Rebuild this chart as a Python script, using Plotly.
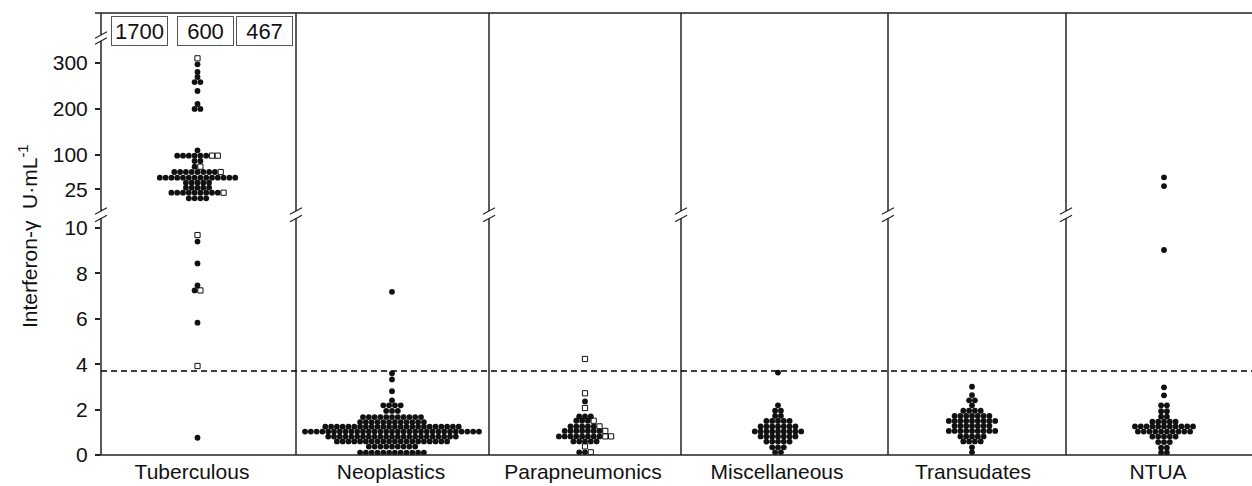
import plotly.graph_objects as go

# ---------------- data ----------------
categories = ["Tuberculous", "Neoplastics", "Parapneumonics",
              "Miscellaneous", "Transudates", "NTUA"]

# Dot-plot rows: value (U/mL), number of filled circles, number of open squares
# Tuberculous - lower panel (0-10)
tb_low_y = [9.69, 9.40, 8.44, 7.47, 7.25, 5.83, 3.92, 0.76]
tb_low_n = [0, 1, 1, 1, 1, 1, 0, 1]
tb_low_o = [1, 0, 0, 0, 1, 0, 1, 0]
# Tuberculous - upper panel
tb_up_y = [310.4, 297.3, 280.6, 269.7, 258.8, 239.3, 211.0, 200.2, 110.2,
           98.6, 87.0, 74.6, 63.0, 50.6, 39.8, 28.9, 18.0, 5.8]
tb_up_n = [0, 1, 1, 1, 2, 1, 1, 2, 1, 6, 2, 1, 8, 14, 5, 5, 9, 4]
tb_up_o = [1, 0, 0, 0, 0, 0, 0, 0, 0, 2, 0, 1, 1, 0, 0, 0, 1, 0]
# Tuberculous - off-scale values shown in boxes
tb_off_scale = [1700, 600, 467]

neo_y = [0.10, 0.37, 0.60, 0.81, 1.03, 1.25, 1.45, 1.67, 1.94, 2.19, 2.41,
         2.81, 3.33, 3.60, 7.19]
neo_n = [12, 9, 20, 23, 31, 24, 12, 11, 3, 4, 1, 1, 1, 1, 1]

para_y = [4.23, 2.72, 2.36, 2.07, 1.70, 1.51, 1.26, 1.06, 0.82, 0.60, 0.38, 0.12]
para_n = [0, 0, 1, 0, 3, 3, 5, 7, 8, 5, 0, 2]
para_o = [1, 1, 0, 1, 0, 1, 1, 1, 2, 0, 1, 1]

misc_y = [3.63, 2.19, 1.95, 1.72, 1.50, 1.26, 1.04, 0.82, 0.59, 0.34, 0.12]
misc_n = [1, 1, 2, 2, 5, 7, 9, 7, 5, 3, 2]

tran_y = [3.01, 2.64, 2.41, 2.19, 1.95, 1.72, 1.50, 1.28, 1.06, 0.82, 0.60,
          0.34, 0.12]
tran_n = [1, 1, 2, 1, 4, 7, 9, 7, 9, 5, 4, 1, 1]

ntua_up_y = [51.5, 32.5]
ntua_up_n = [1, 1]
ntua_y = [9.03, 2.98, 2.63, 2.19, 1.93, 1.69, 1.47, 1.26, 1.03, 0.81, 0.57,
          0.32, 0.10]
ntua_n = [1, 1, 1, 2, 2, 2, 5, 11, 10, 5, 3, 2, 2]

cutoff = 3.7
low_ticks = [0, 2, 4, 6, 8, 10]
up_ticks = [25, 100, 200, 300]

# ---------------- layout constants (pixels) ----------------
W, H = 1252, 486
L, R, T, B = 101, 0, 13, 31
PW, PH = W - L - R, H - T - B

def pxx(p):
    return (p - L) / PW

def pxy(p):
    return (H - B - p) / PH

# x axis runs in plot pixels
centers = [96.5, 291, 484, 677, 871, 1063]
label_pos = [91, 290, 482, 676, 872, 1057]
separators = [296, 489, 681, 888, 1066]
SPACING = 5.8

LOW_TOP, UP_BOT, UP_TOP = 218.5, 211, 38


def swarm(center, ys, ns, os_=None):
    if os_ is None:
        os_ = [0] * len(ys)
    fx, fy, ox, oy = [], [], [], []
    for y, n, o in zip(ys, ns, os_):
        tot = n + o
        for i in range(tot):
            x = center + (i - (tot - 1) / 2) * SPACING
            if i < n:
                fx.append(x); fy.append(y)
            else:
                ox.append(x); oy.append(y)
    return fx, fy, ox, oy


lower_sets = [
    (centers[0], tb_low_y, tb_low_n, tb_low_o),
    (centers[1], neo_y, neo_n, None),
    (centers[2], para_y, para_n, para_o),
    (centers[3], misc_y, misc_n, None),
    (centers[4], tran_y, tran_n, None),
    (centers[5], ntua_y, ntua_n, None),
]
upper_sets = [
    (centers[0], tb_up_y, tb_up_n, tb_up_o),
    (centers[5], ntua_up_y, ntua_up_n, None),
]

fig = go.Figure()
DOT = dict(symbol="circle", size=5.8, color="#111111", line=dict(width=0))
SQ = dict(symbol="square-open", size=5.2, color="#111111", line=dict(width=1, color="#111111"))

for yaxis, sets in (("y", lower_sets), ("y2", upper_sets)):
    for c, ys, ns, os_ in sets:
        fx, fy, ox, oy = swarm(c, ys, ns, os_)
        if fx:
            fig.add_trace(go.Scatter(x=fx, y=fy, mode="markers", marker=DOT,
                                     yaxis=yaxis, xaxis="x", showlegend=False,
                                     hoverinfo="y"))
        if ox:
            fig.add_trace(go.Scatter(x=ox, y=oy, mode="markers", marker=SQ,
                                     yaxis=yaxis, xaxis="x", showlegend=False,
                                     hoverinfo="y"))

FONT = "Liberation Sans, Arial, Helvetica, sans-serif"
LINE = "#222222"

shapes = []

def seg(x0, y0, x1, y1, color=LINE, width=1.5):
    shapes.append(dict(type="line", xref="paper", yref="paper",
                       x0=pxx(x0), y0=pxy(y0), x1=pxx(x1), y1=pxy(y1),
                       line=dict(color=color, width=width)))

def slash(x, y):
    seg(x - 6, y + 3.2, x + 6, y - 3.2, width=1.2)

# left axis with two breaks
seg(L, H - B, L, LOW_TOP)
seg(L, UP_BOT, L, 41)
seg(L, 35, L, T)
for yb in (LOW_TOP, UP_BOT, 41, 35):
    slash(L, yb)
# separators with break
for sx in separators:
    seg(sx, H - B, sx, LOW_TOP, color="#333333", width=1.6)
    seg(sx, UP_BOT, sx, T, color="#333333", width=1.6)
    slash(sx, LOW_TOP)
    slash(sx, UP_BOT)
# top and bottom lines
seg(95, T, W, T)
seg(95, H - B, W, H - B)
# cut-off line
shapes.append(dict(type="line", xref="paper", yref="y", x0=0, x1=1,
                   y0=cutoff, y1=cutoff,
                   line=dict(color="#000000", width=1.3, dash="6px,4px")))

annotations = []
box_x = [139.5, 205.5, 264]
for v, bx in zip(tb_off_scale, box_x):
    annotations.append(dict(text=str(v), xref="paper", yref="paper",
                            x=pxx(bx), y=pxy(31), xanchor="center",
                            yanchor="middle", showarrow=False,
                            font=dict(size=22, color="#111111", family=FONT),
                            bordercolor="#555555", borderwidth=1, borderpad=1,
                            width=53, height=26, bgcolor="white"))
annotations.append(dict(text="Interferon-\u03b3  U\u00b7mL<sup>-1</sup>",
                        xref="paper", yref="paper", x=pxx(28), y=pxy(237),
                        xanchor="center", yanchor="middle",
                        textangle=-90, showarrow=False,
                        font=dict(size=21, color="#111111", family=FONT)))

fig.update_layout(
    width=W, height=H,
    margin=dict(l=L, r=R, t=T, b=B, pad=0),
    paper_bgcolor="white", plot_bgcolor="white",
    font=dict(family=FONT, size=21, color="#111111"),
    shapes=shapes, annotations=annotations,
    xaxis=dict(range=[0, PW], domain=[0, 1], showgrid=False, zeroline=False,
               showline=False, tickmode="array", tickvals=label_pos,
               ticktext=categories, ticks="", tickfont=dict(size=21),
               ticklabelstandoff=2, automargin=False, fixedrange=True),
    yaxis=dict(domain=[0, pxy(LOW_TOP)], range=[0, (H - B - LOW_TOP) / 22.7],
               anchor="x", showgrid=False, zeroline=False, showline=False,
               tickmode="array", tickvals=low_ticks, ticks="outside",
               ticklen=5, tickwidth=1.5, tickcolor=LINE, automargin=False,
               ticklabelstandoff=3, tickfont=dict(size=21)),
    yaxis2=dict(domain=[pxy(UP_BOT), pxy(UP_TOP)], range=[-21.8, 354.6],
                anchor="x", showgrid=False, zeroline=False, showline=False,
                tickmode="array", tickvals=up_ticks, ticks="outside",
                ticklen=5, tickwidth=1.5, tickcolor=LINE, automargin=False,
                ticklabelstandoff=3, tickfont=dict(size=21)),
)

fig.write_html("out.html",
               config={"displayModeBar": False},
               post_script="document.body.style.margin='0';"
                           "document.body.style.padding='0';"
                           "document.body.style.overflow='hidden';")
